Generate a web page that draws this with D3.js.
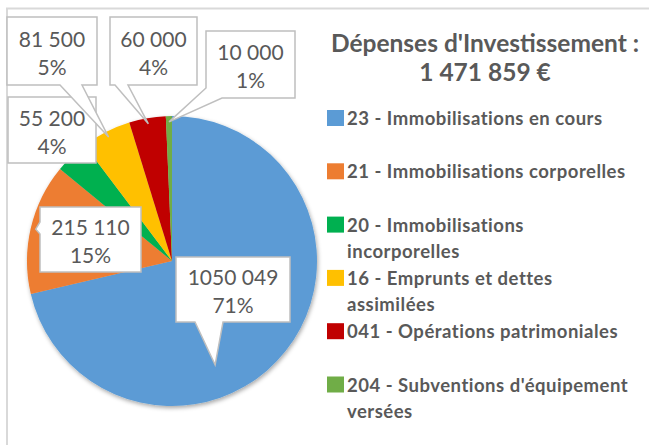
<!DOCTYPE html>
<html>
<head>
<meta charset="utf-8">
<script src="https://cdn.jsdelivr.net/npm/d3@7"></script>
<style>
  body { margin: 0; background: #fff; }
  svg { display: block; font-family: Lato, "Open Sans", sans-serif; }
</style>
</head>
<body>
<script>
  // Data
  const categories = ["23", "21", "20", "16", "041", "204"];
  const legendLines = [
    ["23 - Immobilisations en cours"],
    ["21 - Immobilisations corporelles"],
    ["20 - Immobilisations", "incorporelles"],
    ["16 - Emprunts et dettes", "assimilées"],
    ["041 - Opérations patrimoniales"],
    ["204 - Subventions d'équipement", "versées"]
  ];
  const values = [1050049, 215110, 55200, 81500, 60000, 10000];
  const colors = ["#5b9bd5", "#ed7d31", "#00b050", "#ffc000", "#c00000", "#70ad47"];
  const titleLines = ["Dépenses d'Investissement :", "1 471 859 €"];

  // Callout layout, one per slice (box, pointer base, pointer tip as slice fraction / radius fraction)
  const callouts = [
    { x: 176, y: 257, w: 114, h: 65, side: "bottom", base: [223, 195], tip: [0.613, 0.775] },
    { x: 40, y: 207, w: 101, h: 65, side: "left", base: [234, 222], tip: [0.5, 0.965] },
    { x: 8, y: 97, w: 88, h: 66, side: null },
    { x: 7, y: 17, w: 90, h: 68, side: "bottom", base: [82, 60], tip: [0.5, 0.96] },
    { x: 110, y: 17, w: 87, h: 68, side: "bottom", base: [128, 115], tip: [0.5, 0.96] },
    { x: 206, y: 31, w: 89, h: 67, side: "corner", base: [222, 88], tip: [0.5, 0.96] }
  ];
  const drawOrder = [2, 3, 4, 5, 1, 0];

  const width = 649, height = 445;
  const cx = 172, cy = 261, radius = 145;
  const textColor = "#595959";

  const svg = d3.select("body").append("svg")
    .attr("width", width)
    .attr("height", height);

  const defs = svg.append("defs");
  defs.append("filter").attr("id", "shadow")
    .attr("x", "-10%").attr("y", "-10%").attr("width", "130%").attr("height", "130%")
    .append("feDropShadow")
    .attr("dx", 1).attr("dy", 2).attr("stdDeviation", 2)
    .attr("flood-color", "#000").attr("flood-opacity", 0.35);

  // Chart area border (cropped)
  svg.append("path")
    .attr("d", `M7,${height} V8.5 H${width}`)
    .attr("fill", "none")
    .attr("stroke", "#d9d9d9")
    .attr("stroke-width", 2);

  // Number formats (French spacing as shown)
  const fr = d3.formatLocale({ decimal: ",", thousands: "\u00a0", grouping: [3, 6], currency: ["", " €"] });
  const fmt = fr.format(",d");

  // Percentages rounded to sum to 100 (largest remainder)
  const total = d3.sum(values);
  const raw = values.map(v => v / total * 100);
  const pct = raw.map(Math.floor);
  const left = 100 - d3.sum(pct);
  d3.range(values.length)
    .sort((a, b) => (raw[b] - pct[b]) - (raw[a] - pct[a]))
    .slice(0, left)
    .forEach(i => pct[i] += 1);

  // Pie
  const pie = d3.pie().sort(null).value(d => d);
  const arcs = pie(values);
  const arc = d3.arc().innerRadius(0).outerRadius(radius);

  const g = svg.append("g").attr("transform", `translate(${cx},${cy})`);
  g.append("g").attr("filter", "url(#shadow)")
    .selectAll("path")
    .data(arcs)
    .join("path")
    .attr("d", arc)
    .attr("fill", (d, i) => colors[i]);

  // Callouts
  function tipPoint(a, c) {
    if (!c.tip) return null;
    const ang = a.startAngle + c.tip[0] * (a.endAngle - a.startAngle);
    const r = c.tip[1] * radius;
    return [cx + r * Math.sin(ang), cy - r * Math.cos(ang)];
  }

  function calloutPath(c, t) {
    const x0 = c.x, y0 = c.y, x1 = c.x + c.w, y1 = c.y + c.h;
    const p = d3.path();
    p.moveTo(x0, y0);
    p.lineTo(x1, y0);
    p.lineTo(x1, y1);
    if (c.side === "bottom") {
      p.lineTo(c.base[0], y1);
      p.lineTo(t[0], t[1]);
      p.lineTo(c.base[1], y1);
      p.lineTo(x0, y1);
    } else if (c.side === "left") {
      p.lineTo(x0, y1);
      p.lineTo(x0, c.base[0]);
      p.lineTo(t[0], t[1]);
      p.lineTo(x0, c.base[1]);
    } else if (c.side === "corner") {
      p.lineTo(c.base[0], y1);
      p.lineTo(t[0], t[1]);
      p.lineTo(x0, c.base[1]);
    } else {
      p.lineTo(x0, y1);
    }
    p.closePath();
    return p.toString();
  }

  const labels = svg.append("g")
    .selectAll("g")
    .data(drawOrder)
    .join("g");

  labels.append("path")
    .attr("d", i => calloutPath(callouts[i], tipPoint(arcs[i], callouts[i])))
    .attr("fill", "#fff")
    .attr("stroke", "#bfbfbf")
    .attr("stroke-width", 1.5)
    .attr("stroke-linejoin", "miter");

  labels.append("text")
    .attr("x", i => callouts[i].x + callouts[i].w / 2)
    .attr("y", i => callouts[i].y + callouts[i].h / 2 - 13)
    .attr("text-anchor", "middle")
    .attr("dominant-baseline", "central")
    .attr("font-size", 21)
    .attr("fill", textColor)
    .text(i => fmt(values[i]));

  labels.append("text")
    .attr("x", i => callouts[i].x + callouts[i].w / 2)
    .attr("y", i => callouts[i].y + callouts[i].h / 2 + 15)
    .attr("text-anchor", "middle")
    .attr("dominant-baseline", "central")
    .attr("font-size", 21)
    .attr("fill", textColor)
    .text(i => pct[i] + "%");

  // Title
  svg.append("text")
    .attr("x", 485)
    .attr("text-anchor", "middle")
    .attr("font-size", 24.5)
    .attr("font-weight", 700)
    .attr("fill", textColor)
    .selectAll("tspan")
    .data(titleLines)
    .join("tspan")
    .attr("x", 485)
    .attr("y", (d, i) => 52 + i * 29)
    .text(d => d);

  // Legend
  const legendY = d3.scaleLinear().domain([0, categories.length - 1]).range([118, 384.5]);
  const legend = svg.append("g")
    .selectAll("g")
    .data(categories)
    .join("g")
    .attr("transform", (d, i) => `translate(327,${legendY(i)})`);

  legend.append("rect")
    .attr("x", 0).attr("y", -8)
    .attr("width", 17).attr("height", 16)
    .attr("fill", (d, i) => colors[i]);

  legend.append("text")
    .attr("font-size", 18.5)
    .attr("font-weight", 700)
    .attr("letter-spacing", 0.5)
    .attr("fill", textColor)
    .selectAll("tspan")
    .data((d, i) => legendLines[i])
    .join("tspan")
    .attr("x", 20)
    .attr("y", (d, j) => j * 26)
    .attr("dominant-baseline", "central")
    .text(d => d);
</script>
</body>
</html>
